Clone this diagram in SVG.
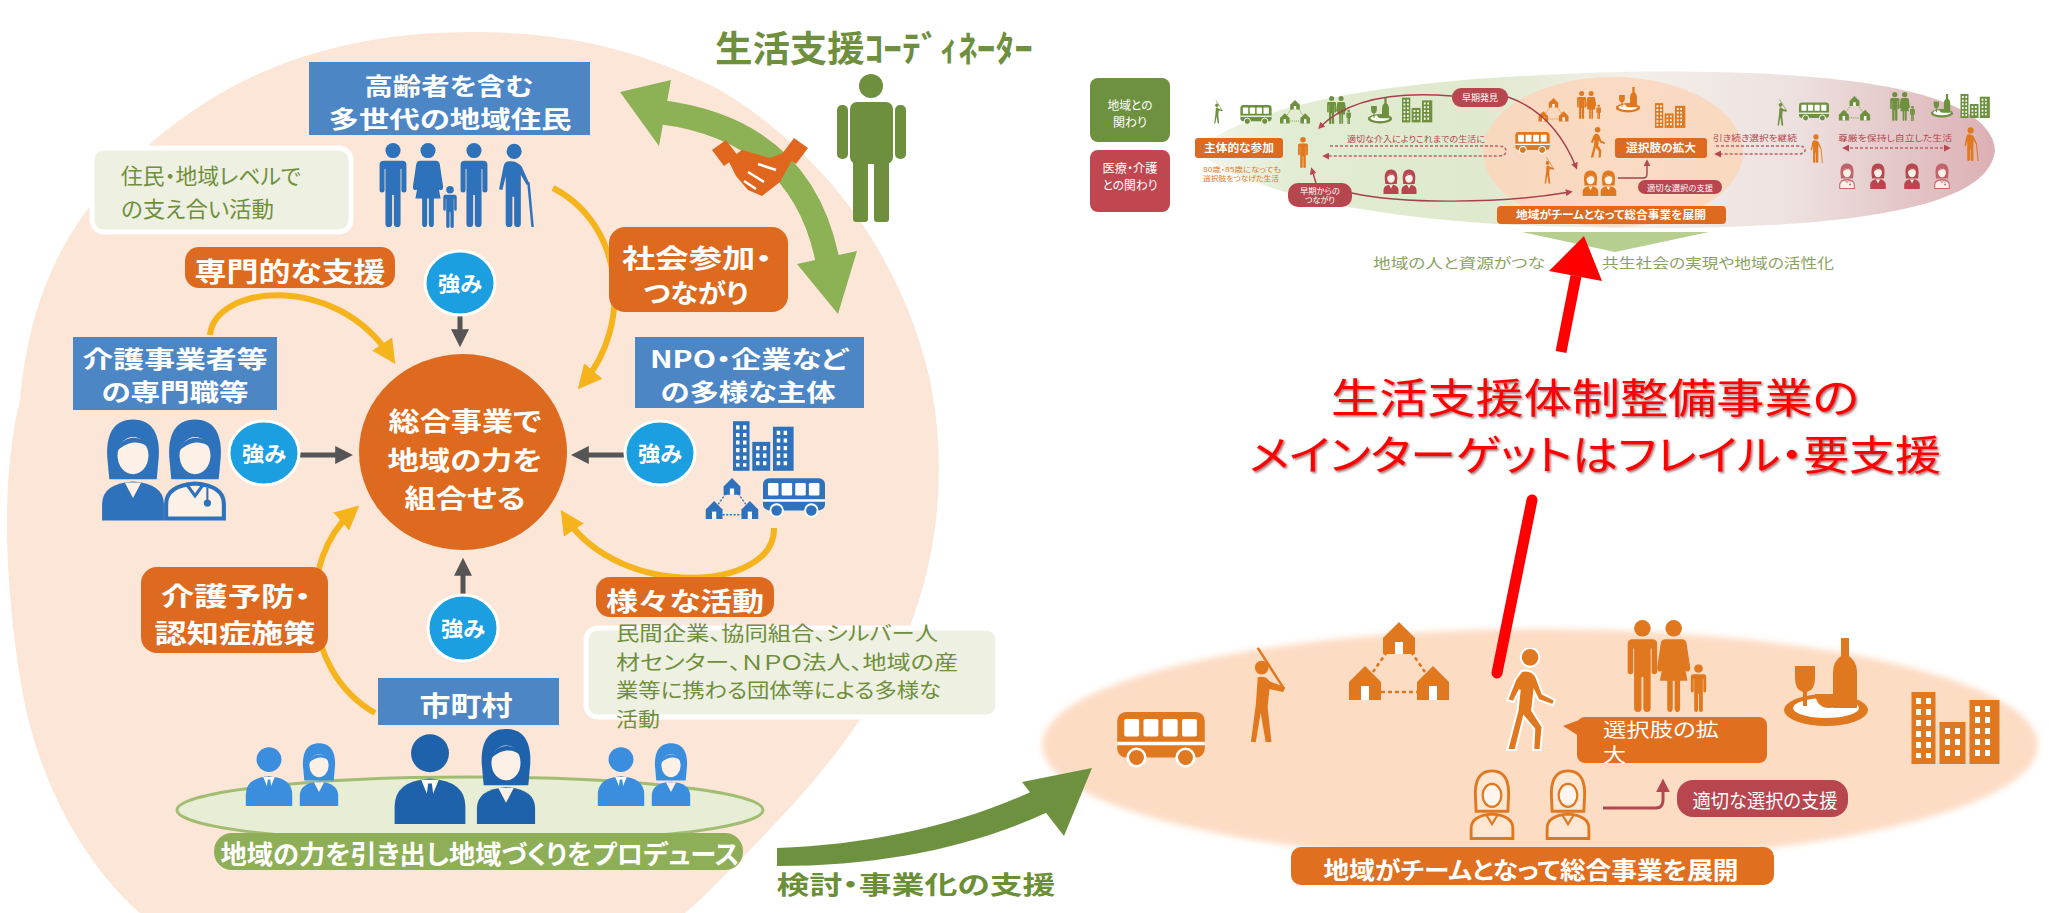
<svg xmlns="http://www.w3.org/2000/svg" width="2049" height="913" viewBox="0 0 2049 913">
<style>
  text { font-family: "Noto Sans CJK JP", "Noto Sans CJK SC", sans-serif; font-feature-settings: "palt"; }
  .b { font-weight: 700; }
  .w { fill: #fff; }
  .c { text-anchor: middle; }
  .bluebox { fill: #4d86c5; }
  .orpill { fill: #dd6a1f; }
  .redpill { fill: #b8464f; }
  .strong { fill: #1c9fe1; stroke: #fff; stroke-width: 3; }
  .gray { stroke: #555; stroke-width: 5; fill: none; }
  .yel { stroke: #f6b41c; stroke-width: 6; fill: none; }
  .lite { fill: #eef0e2; stroke: #fff; stroke-width: 5; }
  .olivetxt { fill: #6f8f3c; }
  .ib { fill: #2d72ba; color: #2d72ba; }
  .ib2 { fill: #1e62ab; color: #1e62ab; }
  .ib3 { fill: #3b8ede; color: #3b8ede; }
  .io { fill: #e0781f; color: #e0781f; }
  .ig { fill: #6e9140; color: #6e9140; }
  .ir { fill: #b8464f; color: #b8464f; }
  .ip { fill: #c2636c; color: #c2636c; }
  .dash { stroke: #c0606a; stroke-width: 1.5; stroke-dasharray: 3 2; fill: none; }
  .thin { stroke: #a8404c; stroke-width: 1.4; fill: none; }
</style>
<defs>
  <marker id="m-yel" viewBox="0 0 10 10" refX="6" refY="5" markerUnits="userSpaceOnUse" markerWidth="24" markerHeight="24" orient="auto"><path d="M0,0 L10,5 L0,10 Z" fill="#f6b41c"/></marker>
  <marker id="m-yel-s" viewBox="0 0 10 10" refX="6" refY="5" markerUnits="userSpaceOnUse" markerWidth="11" markerHeight="11" orient="auto-start-reverse"><path d="M0,0 L10,5 L0,10 Z" fill="#f6b41c"/></marker>
  <marker id="m-gray" viewBox="0 0 10 10" refX="6" refY="5" markerUnits="userSpaceOnUse" markerWidth="18" markerHeight="18" orient="auto"><path d="M0,0 L10,5 L0,10 Z" fill="#555"/></marker>
  <marker id="m-red" viewBox="0 0 10 10" refX="6" refY="5" markerUnits="userSpaceOnUse" markerWidth="7" markerHeight="7" orient="auto-start-reverse"><path d="M0,0 L10,5 L0,10 Z" fill="#b8464f"/></marker>
  <marker id="m-red-l" viewBox="0 0 10 10" refX="6" refY="5" markerUnits="userSpaceOnUse" markerWidth="14" markerHeight="14" orient="auto"><path d="M0,0 L10,5 L0,10 Z" fill="#b5454e"/></marker>

  <linearGradient id="lens" x1="0" y1="0" x2="1" y2="0">
    <stop offset="0" stop-color="#f4f7ee"/>
    <stop offset="0.12" stop-color="#e2ecd2"/>
    <stop offset="0.35" stop-color="#dfe9cd"/>
    <stop offset="0.55" stop-color="#f3efe9"/>
    <stop offset="0.75" stop-color="#ede1df"/>
    <stop offset="1" stop-color="#dcb0b4"/>
  </linearGradient>
  <filter id="soft" x="-5%" y="-10%" width="110%" height="120%"><feGaussianBlur stdDeviation="3"/></filter>
  <filter id="tsh" x="-5%" y="-20%" width="110%" height="140%"><feDropShadow dx="1.5" dy="1.5" stdDeviation="0.8" flood-color="#5a0000" flood-opacity="0.6"/></filter>

  <!-- pictograms -->
  <symbol id="i-man" viewBox="0 0 40 100">
    <circle cx="20" cy="9" r="9"/>
    <path d="M9,21 H31 Q36,21 36,26 V56 Q36,59 33,59 Q30,59 30,56 V31 H29 V96 Q29,100 25,100 Q21,100 21,96 V62 H19 V96 Q19,100 15,100 Q11,100 11,96 V31 H10 V56 Q10,59 7,59 Q4,59 4,56 V26 Q4,21 9,21 Z"/>
  </symbol>
  <symbol id="i-woman" viewBox="0 0 40 100">
    <circle cx="20" cy="9" r="9"/>
    <path d="M11,21 H29 Q33,21 34,25 L38,52 Q38,56 35,56 Q32,56 32,53 L29,34 L35,66 H27 V96 Q27,100 24,100 Q21,100 21,96 V66 H19 V96 Q19,100 16,100 Q13,100 13,96 V66 H5 L11,34 L8,53 Q8,56 5,56 Q2,56 2,52 L6,25 Q7,21 11,21 Z"/>
  </symbol>
  <symbol id="i-elder" viewBox="0 0 50 100">
    <circle cx="18" cy="10" r="9"/>
    <path d="M10,22 Q20,20 27,28 L36,48 L33,50 L26,38 V96 Q26,100 22,100 Q18,100 18,96 V64 H16 V96 Q16,100 12,100 Q8,100 8,96 V40 L4,56 L0,55 L5,30 Q6,23 10,22 Z"/>
    <path d="M35,47 L40,100" stroke="currentColor" stroke-width="3" fill="none"/>
  </symbol>
  <symbol id="i-family" viewBox="0 0 100 100">
    <use href="#i-man" x="0" y="0" width="40" height="100"/>
    <use href="#i-woman" x="34" y="0" width="40" height="100"/>
    <use href="#i-man" x="70" y="48" width="22" height="52"/>
  </symbol>
  <symbol id="i-bus" viewBox="0 0 100 64">
    <rect x="0" y="0" width="100" height="52" rx="10"/>
    <rect x="8" y="8" width="17" height="20" rx="2" fill="#fff"/>
    <rect x="30" y="8" width="17" height="20" rx="2" fill="#fff"/>
    <rect x="52" y="8" width="17" height="20" rx="2" fill="#fff"/>
    <rect x="74" y="8" width="17" height="20" rx="2" fill="#fff"/>
    <rect x="0" y="34" width="100" height="4" fill="#fff"/>
    <circle cx="22" cy="52" r="10" stroke="#fff" stroke-width="3"/>
    <circle cx="78" cy="52" r="10" stroke="#fff" stroke-width="3"/>
  </symbol>
  <symbol id="i-houses" viewBox="0 0 100 80">
    <path d="M42,24 L24,50 M58,24 L76,50 M32,70 H68" stroke="currentColor" stroke-width="2.5" stroke-dasharray="4 3" fill="none"/>
    <path d="M50,0 L66,16 V32 H34 V16 Z"/>
    <path d="M16,44 L32,60 V78 H0 V60 Z"/>
    <path d="M84,44 L100,60 V78 H68 V60 Z"/>
    <rect x="46" y="20" width="8" height="12" fill="#fff"/>
    <rect x="12" y="64" width="8" height="14" fill="#fff"/>
    <rect x="80" y="64" width="8" height="14" fill="#fff"/>
  </symbol>
  <symbol id="i-bldg" viewBox="0 0 90 72">
    <rect x="0" y="0" width="24" height="72"/>
    <rect x="28" y="30" width="26" height="42"/>
    <rect x="58" y="8" width="30" height="64"/>
    <g stroke="#fff" stroke-width="5" stroke-dasharray="6 5" fill="none">
      <path d="M7,6 V66 M17,6 V66 M36,36 V66 M46,36 V66 M66,14 V66 M76,14 V66"/>
    </g>
  </symbol>
  <symbol id="i-golfer" viewBox="0 0 50 100">
    <circle cx="16" cy="22" r="7"/>
    <path d="M12,32 Q20,30 24,36 L40,42 L38,47 L24,44 L22,62 L26,98 H20 L15,68 L10,98 H5 L10,60 Z"/>
    <path d="M39,44 L12,2" stroke="currentColor" stroke-width="2.5" fill="none"/>
  </symbol>
  <symbol id="i-walker" viewBox="0 0 60 100">
    <circle cx="32" cy="9" r="9"/>
    <path d="M24,22 Q34,20 38,28 L44,44 L56,50 L54,55 L40,50 L36,42 L34,60 L44,76 L42,98 H35 L36,78 L26,66 L18,98 H10 L20,60 L22,40 L16,52 L10,50 L18,30 Z"/>
  </symbol>
  <symbol id="i-wine" viewBox="0 0 90 90">
    <ellipse cx="45" cy="72" rx="42" ry="16"/>
    <ellipse cx="45" cy="70" rx="33" ry="10" fill="#fff"/>
    <path d="M60,0 H68 V18 Q76,24 76,34 V70 H52 V34 Q52,24 60,18 Z"/>
    <path d="M14,28 H34 V40 Q34,52 26,54 V68 H22 V54 Q14,52 14,40 Z"/>
    <path d="M34,56 H62 Q60,70 48,70 Q36,70 34,56 Z"/>
  </symbol>
  <symbol id="i-bust" viewBox="0 0 60 76">
    <circle cx="30" cy="20" r="15"/>
    <path d="M2,76 V62 Q2,42 30,40 Q58,42 58,62 V76 Z"/>
    <path d="M23,41 L30,58 L37,41 Z" fill="#fff"/>
    <path d="M28.5,44 H31.5 L33,56 L30,60 L27,56 Z"/>
  </symbol>
  <symbol id="i-docw" viewBox="0 0 64 100">
    <path d="M32,2 C12,2 6,18 7,38 L9,60 H55 L57,38 C58,18 52,2 32,2 Z"/>
    <ellipse cx="32" cy="37" rx="15" ry="18" fill="#fdf0e6"/>
    <path d="M17,32 C20,18 40,14 48,30 C40,22 28,22 17,32 Z"/>
    <path d="M2,100 V84 Q2,64 32,62 Q62,64 62,84 V100 Z"/>
    <path d="M24,63 L32,78 L40,63 Z" fill="#fdf0e6"/>
  </symbol>
  <symbol id="i-docm" viewBox="0 0 64 100">
    <path d="M32,2 C12,2 6,18 7,38 L9,60 H55 L57,38 C58,18 52,2 32,2 Z"/>
    <ellipse cx="32" cy="37" rx="15" ry="18" fill="#fdf0e6"/>
    <path d="M17,32 C20,18 40,14 48,30 C40,22 28,22 17,32 Z"/>
    <path d="M4,98 V84 Q4,66 32,64 Q60,66 60,84 V98 Z" fill="#fdf0e6" stroke="currentColor" stroke-width="4"/>
    <path d="M24,65 L32,76 L40,65" fill="none" stroke="currentColor" stroke-width="3"/>
    <path d="M44,68 V80" stroke="currentColor" stroke-width="2" fill="none"/>
    <circle cx="44" cy="83" r="3.5"/>
  </symbol>
  <symbol id="i-doco" viewBox="0 0 64 100">
    <path d="M32,4 C13,4 8,20 9,40 L10,60 H54 L55,40 C56,20 51,4 32,4 Z" fill="#fde6d2" stroke="currentColor" stroke-width="4"/>
    <ellipse cx="32" cy="38" rx="13" ry="16" fill="#fff5ee" stroke="currentColor" stroke-width="3"/>
    <path d="M3,98 V84 Q3,66 32,64 Q61,66 61,84 V98 Z" fill="#fde6d2" stroke="currentColor" stroke-width="4"/>
    <path d="M24,65 L32,78 L40,65" fill="none" stroke="currentColor" stroke-width="3"/>
  </symbol>
</defs>

<rect width="2049" height="913" fill="#fff"/>

<!-- backdrops -->
<path id="bg-left" d="M140,913 C90,870 40,790 22,690 C5,590 0,480 20,400 C30,290 70,200 180,120 C260,60 360,32 470,32 C580,32 650,55 720,90 C820,150 900,250 930,380 C950,480 935,580 895,660 C850,750 780,820 720,880 C705,895 695,905 685,913 Z" fill="#fce6d8"/>
<ellipse id="bg-right" cx="1540" cy="745" rx="498" ry="116" fill="#fddcc4" filter="url(#soft)"/>

<!-- small overview panel -->
<g id="overview">
  <rect x="1090" y="78" width="80" height="64" rx="8" fill="#6e9140"/>
  <text x="1130" y="110" class="w c" font-size="12" textLength="45" lengthAdjust="spacingAndGlyphs">地域との</text>
  <text x="1130" y="127" class="w c" font-size="12" textLength="34" lengthAdjust="spacingAndGlyphs">関わり</text>
  <rect x="1090" y="150" width="80" height="62" rx="8" fill="#c0464f"/>
  <text x="1130" y="173" class="w c" font-size="12" textLength="55" lengthAdjust="spacingAndGlyphs">医療・介護</text>
  <text x="1130" y="190" class="w c" font-size="12" textLength="55" lengthAdjust="spacingAndGlyphs">との関わり</text>

  <path d="M1195,150 C1260,100 1400,78 1620,72 C1850,68 1990,92 1995,150 C1990,208 1850,230 1620,228 C1400,226 1260,200 1195,150 Z" fill="url(#lens)"/>
  <ellipse cx="1613" cy="152" rx="130" ry="75" fill="#fbd6bb" opacity="0.85"/>
  <polygon points="1522,232 1709,232 1615,252" fill="#b7ce91"/>

  <!-- left icon row -->
  <use href="#i-golfer" x="1212" y="100" width="14" height="24" class="ig"/>
  <use href="#i-bus" x="1240" y="105" width="32" height="20" class="ig"/>
  <use href="#i-houses" x="1280" y="100" width="30" height="24" class="ig"/>
  <use href="#i-family" x="1326" y="96" width="28" height="28" class="ig"/>
  <use href="#i-wine" x="1367" y="98" width="26" height="26" class="ig"/>
  <use href="#i-bldg" x="1402" y="97" width="31" height="26" class="ig"/>
  <use href="#i-man" x="1293" y="137" width="20" height="31" class="io"/>
  <rect x="1195" y="138" width="88" height="20" rx="3" class="orpill"/>
  <text x="1239" y="152" class="w c b" font-size="11" textLength="70" lengthAdjust="spacingAndGlyphs">主体的な参加</text>
  <text x="1203" y="172" font-size="6.5" fill="#e0781f" textLength="78" lengthAdjust="spacingAndGlyphs">80歳・85歳になっても</text>
  <text x="1203" y="181" font-size="6.5" fill="#e0781f" textLength="76" lengthAdjust="spacingAndGlyphs">選択肢をつなげた生活</text>
  <text x="1347" y="142" font-size="8.5" fill="#b5454e" textLength="138" lengthAdjust="spacingAndGlyphs">適切な介入によりこれまでの生活に</text>
  <rect x="1452" y="88" width="56" height="19" rx="9" class="redpill"/>
  <text x="1480" y="101" class="w c" font-size="9" textLength="36" lengthAdjust="spacingAndGlyphs">早期発見</text>
  <rect x="1288" y="183" width="64" height="24" rx="10" class="redpill"/>
  <text x="1320" y="193.5" class="w c" font-size="7.5" textLength="40" lengthAdjust="spacingAndGlyphs">早期からの</text>
  <text x="1320" y="203" class="w c" font-size="7.5" textLength="30" lengthAdjust="spacingAndGlyphs">つながり</text>
  <use href="#i-docw" x="1382" y="169" width="18" height="25" class="ir"/>
  <use href="#i-docw" x="1400" y="169" width="18" height="25" class="ir"/>

  <!-- centre icons -->
  <use href="#i-houses" x="1537" y="98" width="33" height="24" class="io"/>
  <use href="#i-family" x="1576" y="91" width="28" height="28" class="io"/>
  <use href="#i-wine" x="1615" y="87" width="26" height="26" class="io"/>
  <use href="#i-bldg" x="1655" y="102" width="31" height="27" class="io"/>
  <use href="#i-bus" x="1515" y="132" width="35" height="22" class="io"/>
  <use href="#i-walker" x="1587" y="127" width="20" height="31" class="io"/>
  <use href="#i-golfer" x="1541" y="157" width="18" height="27" class="io"/>
  <use href="#i-docw" x="1582" y="170" width="17" height="26" class="io"/>
  <use href="#i-docw" x="1600" y="170" width="17" height="26" class="io"/>
  <rect x="1615" y="138" width="92" height="20" rx="3" class="orpill"/>
  <text x="1661" y="152" class="w c b" font-size="11" textLength="70" lengthAdjust="spacingAndGlyphs">選択肢の拡大</text>
  <rect x="1638" y="180" width="84" height="14" rx="7" class="redpill"/>
  <text x="1680" y="190.5" class="w c" font-size="8" textLength="66" lengthAdjust="spacingAndGlyphs">適切な選択の支援</text>
  <rect x="1497" y="206" width="229" height="18" rx="4" class="orpill"/>
  <text x="1611" y="219" class="w c b" font-size="11" textLength="190" lengthAdjust="spacingAndGlyphs">地域がチームとなって総合事業を展開</text>

  <!-- right icons -->
  <text x="1713" y="141" font-size="8.5" fill="#b5454e" textLength="84" lengthAdjust="spacingAndGlyphs">引き続き選択を継続</text>
  <use href="#i-elder" x="1805" y="134" width="26" height="29" class="io"/>
  <use href="#i-golfer" x="1775" y="99" width="16" height="27" class="ig"/>
  <use href="#i-bus" x="1799" y="102" width="30" height="20" class="ig"/>
  <use href="#i-houses" x="1838" y="96" width="33" height="25" class="ig"/>
  <use href="#i-family" x="1889" y="92" width="29" height="29" class="ig"/>
  <use href="#i-wine" x="1930" y="94" width="24" height="24" class="ig"/>
  <use href="#i-bldg" x="1960" y="94" width="31" height="24" class="ig"/>
  <text x="1838" y="141" font-size="8.5" fill="#b5454e" textLength="114" lengthAdjust="spacingAndGlyphs">尊厳を保持し自立した生活</text>
  <use href="#i-elder" x="1960" y="127" width="26" height="34" class="io"/>
  <use href="#i-docm" x="1837" y="163" width="20" height="26" class="ip"/>
  <use href="#i-docw" x="1868" y="163" width="20" height="26" class="ir"/>
  <use href="#i-docw" x="1902" y="163" width="20" height="26" class="ir"/>
  <use href="#i-docm" x="1932" y="163" width="20" height="26" class="ip"/>

  <text x="1373" y="268" font-size="14" fill="#8aa35f" textLength="172" lengthAdjust="spacingAndGlyphs">地域の人と資源がつな</text>
  <text x="1602" y="268" font-size="14" fill="#8aa35f" textLength="232" lengthAdjust="spacingAndGlyphs">共生社会の実現や地域の活性化</text>
</g>

<!-- connectors -->
<g id="connectors">
  <!-- coordinator double arrow -->
  <path d="M660,112 Q800,130 827,258" stroke="#8db155" stroke-width="24" fill="none"/>
  <polygon points="620,92 671,80 659,146" fill="#8db155"/>
  <polygon points="838,314 857,251 797,264" fill="#8db155"/>
  <!-- support arrow to the region -->
  <path d="M777,848 C870,845 960,825 1035,790 L1048,812 C970,848 880,866 777,866 Z" fill="#6e9140"/>
  <polygon points="1092,768 1022,782 1064,836" fill="#6e9140"/>
  <!-- strengths into the hub -->
  <path d="M460,316 V340" class="gray" marker-end="url(#m-gray)"/>
  <path d="M300,455 H346" class="gray" marker-end="url(#m-gray)"/>
  <path d="M624,455 H578" class="gray" marker-end="url(#m-gray)"/>
  <path d="M463,595 V565" class="gray" marker-end="url(#m-gray)"/>
  <!-- yellow flows -->
  <path d="M553,188 C625,225 632,325 584,382" class="yel" marker-end="url(#m-yel)"/>
  <path d="M210,335 C215,285 335,272 390,356" class="yel" marker-end="url(#m-yel)"/>
  <path d="M375,713 C300,670 298,560 352,512" class="yel" marker-end="url(#m-yel)"/>
  <path d="M774,528 C775,592 620,600 566,518" class="yel" marker-end="url(#m-yel)"/>
  <path d="M352,806 L384,818" stroke="#f6b41c" stroke-width="3" fill="none" marker-start="url(#m-yel-s)" marker-end="url(#m-yel-s)"/>
  <path d="M560,818 L590,806" stroke="#f6b41c" stroke-width="3" fill="none" marker-start="url(#m-yel-s)" marker-end="url(#m-yel-s)"/>
  <!-- overview panel arrows -->
  <path d="M1330,146 H1498 Q1506,146 1506,151 Q1506,156 1498,156 H1325" class="dash" marker-end="url(#m-red)"/>
  <path d="M1716,146 H1798 Q1805,146 1805,150 Q1805,154 1798,154 H1717" class="dash" marker-end="url(#m-red)"/>
  <path d="M1845,148 H1948" class="dash" marker-start="url(#m-red)" marker-end="url(#m-red)"/>
  <path d="M1452,96 C1380,90 1342,105 1320,127" class="thin" marker-end="url(#m-red)"/>
  <path d="M1508,97 C1545,110 1565,140 1576,167" class="thin" marker-end="url(#m-red)"/>
  <path d="M1316,183 L1312,170" class="thin" marker-end="url(#m-red)"/>
  <path d="M1352,193 C1400,204 1500,204 1570,192" class="thin" marker-end="url(#m-red)"/>
  <path d="M1618,178 H1643 Q1647,178 1647,174 V162" class="thin" marker-end="url(#m-red)"/>
  <!-- choice support arrow -->
  <path d="M1603,808 H1656 Q1663,808 1663,800 V784" stroke="#b5454e" stroke-width="3" fill="none" marker-end="url(#m-red-l)"/>
  <!-- red target arrow -->
  <path d="M1497,673 L1532,500" stroke="#ff0000" stroke-width="11" stroke-linecap="round" fill="none"/>
  <path d="M1561,352 L1576,276" stroke="#ff0000" stroke-width="11" fill="none"/>
  <polygon points="1584,236 1602,281 1549,271" fill="#ff0000"/>
</g>

<!-- left circle: nodes -->
<g id="coordinator">
  <text x="715" y="62" font-size="36" font-weight="700" fill="#6e8f3d" textLength="318" lengthAdjust="spacingAndGlyphs">生活支援ｺｰﾃﾞｨﾈｰﾀｰ</text>
  <g fill="#6e8f3d">
    <circle cx="871" cy="86" r="12"/>
    <rect x="850" y="102" width="43" height="62" rx="7"/>
    <rect x="837" y="105" width="11" height="54" rx="5"/>
    <rect x="895" y="105" width="11" height="54" rx="5"/>
    <rect x="853" y="150" width="15" height="72" rx="3"/>
    <rect x="874" y="150" width="15" height="72" rx="3"/>
  </g>
</g>
<g id="handshake" fill="#e0661e">
  <path d="M712,150 L726,140 L738,156 L724,166 Z"/>
  <path d="M808,148 L794,138 L782,154 L796,164 Z"/>
  <path d="M728,160 L742,150 L770,158 L786,152 L792,160 L780,182 L762,196 L748,190 L736,176 Z"/>
  <path d="M748,172 L764,182 M744,181 L756,189 M758,164 L776,170" stroke="#fff" stroke-width="2.5" fill="none"/>
</g>

<g id="residents">
  <rect x="309" y="62" width="281" height="73" class="bluebox"/>
  <text x="449" y="95" class="b w c" font-size="24" textLength="169" lengthAdjust="spacingAndGlyphs">高齢者を含む</text>
  <text x="450" y="128" class="b w c" font-size="24" textLength="243" lengthAdjust="spacingAndGlyphs">多世代の地域住民</text>
  <use href="#i-man" x="376" y="143" width="34" height="84" class="ib"/>
  <use href="#i-woman" x="410" y="143" width="36" height="84" class="ib"/>
  <use href="#i-man" x="456" y="143" width="36" height="84" class="ib"/>
  <use href="#i-man" x="440" y="186" width="20" height="42" class="ib"/>
  <use href="#i-elder" x="494" y="143" width="52" height="84" class="ib"/>
</g>

<g id="mutual-aid">
  <rect x="92" y="148" width="259" height="84" rx="12" class="lite"/>
  <text x="121" y="184" font-size="22" class="olivetxt" textLength="180" lengthAdjust="spacingAndGlyphs">住民・地域レベルで</text>
  <text x="121" y="217" font-size="22" class="olivetxt" textLength="153" lengthAdjust="spacingAndGlyphs">の支え合い活動</text>
</g>

<g id="expert-support">
  <rect x="185" y="247" width="210" height="41" rx="14" class="orpill"/>
  <text x="290" y="282" class="b w c" font-size="27" textLength="191" lengthAdjust="spacingAndGlyphs">専門的な支援</text>
</g>

<g id="participation">
  <rect x="609" y="227" width="179" height="85" rx="16" class="orpill"/>
  <text x="697" y="268" class="b w c" font-size="26" textLength="150" lengthAdjust="spacingAndGlyphs">社会参加・</text>
  <text x="696" y="303" class="b w c" font-size="26" textLength="105" lengthAdjust="spacingAndGlyphs">つながり</text>
</g>

<g id="strength-top">
  <ellipse cx="460" cy="283" rx="35" ry="32" class="strong"/>
  <text x="460" y="291" class="b w c" font-size="21" textLength="44" lengthAdjust="spacingAndGlyphs">強み</text>
</g>
<g id="strength-left">
  <ellipse cx="264" cy="453" rx="35" ry="32" class="strong"/>
  <text x="264" y="461" class="b w c" font-size="21" textLength="44" lengthAdjust="spacingAndGlyphs">強み</text>
</g>
<g id="strength-right">
  <ellipse cx="660" cy="453" rx="35" ry="32" class="strong"/>
  <text x="660" y="461" class="b w c" font-size="21" textLength="44" lengthAdjust="spacingAndGlyphs">強み</text>
</g>
<g id="strength-bottom">
  <ellipse cx="463" cy="628" rx="35" ry="33" class="strong"/>
  <text x="463" y="636" class="b w c" font-size="21" textLength="44" lengthAdjust="spacingAndGlyphs">強み</text>
</g>

<g id="hub">
  <ellipse cx="463" cy="452" rx="104" ry="98" fill="#dd6a1e"/>
  <text x="465" y="431" class="b w c" font-size="26" textLength="153" lengthAdjust="spacingAndGlyphs">総合事業で</text>
  <text x="465" y="470" class="b w c" font-size="26" textLength="155" lengthAdjust="spacingAndGlyphs">地域の力を</text>
  <text x="465" y="508" class="b w c" font-size="26" textLength="121" lengthAdjust="spacingAndGlyphs">組合せる</text>
</g>

<g id="care-providers">
  <rect x="73" y="337" width="204" height="73" class="bluebox"/>
  <text x="175" y="368" class="b w c" font-size="24" textLength="185" lengthAdjust="spacingAndGlyphs">介護事業者等</text>
  <text x="175" y="401" class="b w c" font-size="24" textLength="147" lengthAdjust="spacingAndGlyphs">の専門職等</text>
  <use href="#i-docw" x="100" y="415" width="66" height="108" class="ib"/>
  <use href="#i-docm" x="162" y="415" width="66" height="108" class="ib"/>
</g>

<g id="npo">
  <rect x="635" y="337" width="229" height="71" class="bluebox"/>
  <text x="749" y="368" class="b w c" font-size="24" textLength="198" lengthAdjust="spacingAndGlyphs">NPO・企業など</text>
  <text x="748" y="401" class="b w c" font-size="24" textLength="175" lengthAdjust="spacingAndGlyphs">の多様な主体</text>
  <use href="#i-bldg" x="733" y="418" width="62" height="56" class="ib"/>
  <use href="#i-houses" x="703" y="478" width="58" height="42" class="ib"/>
  <use href="#i-bus" x="763" y="478" width="62" height="40" class="ib"/>
</g>

<g id="prevention">
  <rect x="141" y="567" width="187" height="86" rx="16" class="orpill"/>
  <text x="236" y="606" class="b w c" font-size="26" textLength="150" lengthAdjust="spacingAndGlyphs">介護予防・</text>
  <text x="235" y="643" class="b w c" font-size="26" textLength="161" lengthAdjust="spacingAndGlyphs">認知症施策</text>
</g>

<g id="activities">
  <rect x="586" y="628" width="412" height="89" rx="12" class="lite"/>
  <rect x="596" y="577" width="178" height="40" rx="14" class="orpill"/>
  <text x="685" y="611" class="b w c" font-size="26" textLength="158" lengthAdjust="spacingAndGlyphs">様々な活動</text>
  <text x="616" y="641" font-size="20" class="olivetxt" textLength="322" lengthAdjust="spacingAndGlyphs">民間企業、協同組合、シルバー人</text>
  <text x="616" y="670" font-size="20" class="olivetxt" textLength="342" lengthAdjust="spacingAndGlyphs">材センター、ＮＰＯ法人、地域の産</text>
  <text x="616" y="698" font-size="20" class="olivetxt" textLength="325" lengthAdjust="spacingAndGlyphs">業等に携わる団体等による多様な</text>
  <text x="616" y="727" font-size="20" class="olivetxt" textLength="44" lengthAdjust="spacingAndGlyphs">活動</text>
</g>

<g id="municipality">
  <rect x="378" y="678" width="181" height="47" class="bluebox"/>
  <text x="466" y="716" class="b w c" font-size="27" textLength="93" lengthAdjust="spacingAndGlyphs">市町村</text>
</g>

<g id="produce">
  <ellipse cx="470" cy="810" rx="293" ry="33" fill="#e8edd5" stroke="#a2bd72" stroke-width="3"/>
  <use href="#i-bust" x="244" y="743" width="50" height="63" class="ib3"/>
  <use href="#i-docw" x="296" y="742" width="46" height="64" class="ib3"/>
  <use href="#i-bust" x="392" y="728" width="76" height="96" class="ib2"/>
  <use href="#i-docw" x="470" y="727" width="72" height="97" class="ib2"/>
  <use href="#i-bust" x="596" y="743" width="50" height="63" class="ib3"/>
  <use href="#i-docw" x="648" y="742" width="46" height="64" class="ib3"/>
  <rect x="214" y="833" width="529" height="37" rx="18" fill="#8eae58"/>
  <text x="480" y="864" class="b w c" font-size="26" textLength="519" lengthAdjust="spacingAndGlyphs">地域の力を引き出し地域づくりをプロデュース</text>
</g>

<g id="support-label">
  <text x="916" y="894" class="b c" font-size="25" fill="#6a8f35" textLength="279" lengthAdjust="spacingAndGlyphs">検討・事業化の支援</text>
</g>

<!-- region on the right -->
<g id="region">
  <use href="#i-bus" x="1117" y="712" width="88" height="56" class="io"/>
  <use href="#i-golfer" x="1243" y="646" width="55" height="98" class="io"/>
  <use href="#i-houses" x="1349" y="622" width="100" height="80" class="io"/>
  <use href="#i-walker" x="1494" y="648" width="68" height="104" class="io" stroke="#fff" stroke-width="2"/>
  <use href="#i-family" x="1620" y="620" width="100" height="92" class="io"/>
  <use href="#i-wine" x="1780" y="638" width="92" height="90" class="io"/>
  <use href="#i-bldg" x="1910" y="692" width="93" height="72" class="io"/>
  <use href="#i-doco" x="1463" y="768" width="58" height="72" class="io"/>
  <use href="#i-doco" x="1539" y="768" width="58" height="72" class="io"/>
</g>
<g id="choices">
  <rect x="1577" y="717" width="190" height="46" rx="8" fill="#e0701f"/>
  <polygon points="1579,720 1563,726 1579,736" fill="#e0701f"/>
  <text x="1603" y="737" class="w" font-size="19" textLength="116" lengthAdjust="spacingAndGlyphs">選択肢の拡</text>
  <text x="1603" y="762" class="w" font-size="19" textLength="23" lengthAdjust="spacingAndGlyphs">大</text>
</g>
<g id="choice-support">
  <rect x="1677" y="780" width="171" height="37" rx="16" class="redpill"/>
  <text x="1765" y="808" class="w c" font-size="19" textLength="145" lengthAdjust="spacingAndGlyphs">適切な選択の支援</text>
</g>
<g id="team">
  <rect x="1291" y="847" width="483" height="38" rx="10" fill="#e0701f"/>
  <text x="1531" y="879" class="b w c" font-size="24" textLength="415" lengthAdjust="spacingAndGlyphs">地域がチームとなって総合事業を展開</text>
</g>

<g id="target-note" filter="url(#tsh)">
  <text x="1595" y="413" class="c" font-size="41" fill="#ff0000" textLength="528" lengthAdjust="spacingAndGlyphs">生活支援体制整備事業の</text>
  <text x="1595" y="470" class="c" font-size="41" fill="#ff0000" textLength="692" lengthAdjust="spacingAndGlyphs">メインターゲットはフレイル・要支援</text>
</g>
</svg>
